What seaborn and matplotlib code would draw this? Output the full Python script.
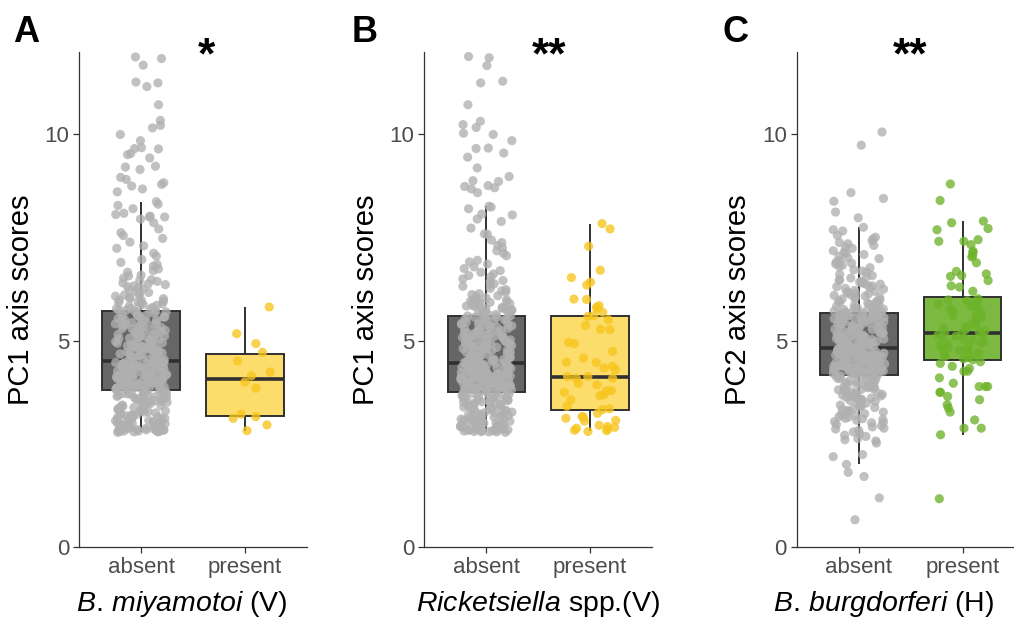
import numpy as np
import pandas as pd
import matplotlib
matplotlib.use("Agg")
import matplotlib.pyplot as plt
import seaborn as sns

# ---- data ---------------------------------------------------------------
groups = ["absent", "present"]

# PC1 scores of the bulk of uninfected ticks (same ticks in panels A and B)
pc1_bulk = [
    5.98, 5.72, 5.95, 5.81, 5.70, 5.88, 5.92, 5.75, 5.84, 5.99,
    5.77, 5.86, 5.71, 5.93, 5.79, 5.90, 5.74, 5.83, 5.96, 5.78,
    5.62, 5.11, 4.73, 5.48, 4.95, 5.30, 4.58, 5.67, 5.02, 4.81,
    5.39, 4.66, 5.21, 5.55, 4.90, 4.52, 5.14, 5.44, 4.77, 5.06,
    5.60, 4.86, 5.27, 4.61, 5.35, 4.99, 5.18, 4.70, 5.51, 4.93,
    5.09, 5.65, 4.55, 5.24, 4.83, 5.41, 4.68, 5.00, 5.33, 4.79,
    5.58, 4.97, 5.15, 4.62, 5.46, 4.88, 5.25, 4.54, 5.04, 5.37,
    4.75, 5.53, 4.91, 5.20, 4.65, 5.12, 5.64, 4.84, 5.29, 4.57,
    5.42, 4.96, 5.07, 4.72, 5.50, 4.87, 5.17, 4.60, 5.32, 5.01,
    4.80, 5.57, 4.94, 5.23, 4.67, 5.10, 5.45, 4.76, 5.36, 4.89,
    5.05, 4.53, 5.26, 5.61, 4.82, 5.13, 4.69, 5.40, 4.98, 5.19,
    4.63, 5.54, 4.85, 5.08, 4.51,
    4.48, 3.92, 4.21, 4.05, 4.37, 3.84, 4.14, 4.44, 3.98, 4.28,
    4.09, 3.81, 4.33, 4.17, 3.95, 4.46, 4.02, 4.24, 3.88, 4.40,
    4.12, 3.80, 4.30, 4.07, 4.42, 3.93, 4.19, 3.86, 4.35, 4.00,
    4.26, 4.47, 3.90, 4.15, 4.38, 3.83, 4.04, 4.23, 3.97, 4.43,
    4.10, 3.89, 4.31, 4.18, 4.49, 3.82, 4.06, 4.36, 3.94, 4.22,
    4.01, 4.45, 3.87, 4.13, 4.29, 3.96, 4.39, 4.08, 3.85, 4.25,
    4.16, 4.41, 3.91, 4.03, 4.34, 3.79, 4.20, 4.47, 3.99, 4.11,
    4.32, 3.86, 4.27, 4.06, 4.44, 3.93, 4.18, 3.83, 4.38, 4.02,
    4.24, 4.49, 3.90, 4.14, 4.35, 3.97, 4.09, 4.43, 3.88, 4.21,
    4.30, 4.00, 4.46, 3.84, 4.12,
    3.76, 3.12, 2.85, 3.45, 3.01, 3.63, 2.79, 3.28, 3.55, 2.93,
    3.19, 3.71, 2.88, 3.37, 3.05, 3.59, 2.81, 3.24, 3.48, 2.97,
    3.67, 3.09, 2.83, 3.41, 3.15, 3.74, 2.90, 3.31, 3.52, 3.02,
    2.80, 3.22, 3.61, 2.95, 3.39, 3.07, 3.70, 2.86, 3.34, 3.57,
    3.11, 2.82, 3.46, 3.00, 3.65, 2.92, 3.27, 3.53, 2.84, 3.17,
    3.73, 2.98, 3.35, 3.04, 3.62, 2.79, 3.43, 3.20, 2.89, 3.50,
    3.13, 3.68, 2.87, 3.30, 3.58, 2.94, 3.08, 3.77, 2.81, 3.25,
    3.44, 2.99, 3.66, 3.14, 2.83, 3.38, 3.03, 3.56, 2.91, 3.21,
    3.72, 2.86, 3.33, 3.10, 3.60, 2.80, 3.47, 2.96, 3.18, 3.64,
    2.84, 3.29, 3.06, 3.51, 2.78,
]

# upper tail of the B. miyamotoi-negative group (panel A)
pc1_tail_a = [
    11.88, 11.68, 11.84, 11.25, 11.16, 11.27, 10.72, 10.34, 10.22, 10.16,
    10.00, 9.54, 9.85, 9.68, 9.65, 9.51, 9.43, 9.66, 9.23, 9.21,
    9.15, 8.96, 8.91, 8.83, 8.75, 8.79, 8.68, 8.61, 8.37, 8.28,
    8.31, 8.06, 8.02, 8.09, 8.20, 8.00, 7.95, 8.00,
    7.86, 7.62, 7.71, 7.48, 7.55, 7.30, 7.39, 7.12, 7.24, 6.97,
    7.05, 6.81, 6.90, 6.74, 6.66, 6.85, 6.59, 6.52, 6.70, 6.44,
    6.48, 6.36, 6.57, 6.31, 6.40, 6.26, 6.19, 6.33, 6.12, 6.23,
    6.08, 6.15, 6.05, 6.28, 6.02, 6.11, 6.38, 6.17, 6.03, 6.46,
]

# upper tail of the Rickettsiella-negative group (panel B)
pc1_tail_b = [
    11.89, 11.86, 11.67, 11.29, 11.25, 10.72, 10.32, 10.24, 10.17, 10.00,
    10.03, 9.85, 9.67, 9.66, 9.55, 9.45, 9.19, 8.98, 8.88, 8.86,
    8.74, 8.76, 8.71, 8.68, 8.59, 8.26, 8.24, 8.20, 8.07, 8.05,
    7.95, 7.89, 7.73, 7.59, 7.58,
    7.44, 7.31, 7.38, 7.18, 7.25, 7.06, 6.95, 7.12, 6.86, 6.79,
    6.91, 6.70, 6.62, 6.75, 6.55, 6.50, 6.66, 6.43, 6.38, 6.58,
    6.32, 6.27, 6.46, 6.21, 6.14, 6.35, 6.09, 6.18, 6.04, 6.24,
    6.01, 6.12, 6.07,
]

miyamotoi_present = [
    5.82, 5.17, 4.93, 4.72, 4.51, 4.24, 4.15,
    4.00, 3.85, 3.22, 3.16, 3.12, 2.96, 2.82,
]

rickettsiella_present = [
    7.84, 7.71, 7.29, 6.71, 6.53, 6.42, 6.35, 6.00, 6.01, 5.81,
    5.85, 5.78, 5.69, 5.59, 5.51, 5.61, 5.27, 5.37, 5.28, 4.93,
    4.96, 4.74, 4.58, 4.48, 4.47, 4.38, 4.34, 4.30, 4.09, 4.13,
    4.09, 4.13, 3.97, 3.93, 3.79, 3.75, 3.79, 3.69, 3.67, 3.57,
    3.41, 3.33, 3.24, 3.15, 3.16, 3.12, 3.07, 2.92, 2.90, 2.82,
    2.80, 2.86, 2.83, 2.95, 2.88, 3.05, 3.35,
]

pc2_absent = [
    0.66, 1.19, 1.71, 1.81, 2.00, 2.19, 2.24,
    2.52, 2.71, 2.63, 2.88, 2.79, 2.94, 2.57, 2.83, 2.68, 2.97, 2.75, 2.91, 2.60, 2.86,
    3.04, 3.21, 3.12, 3.38, 3.07, 3.46, 3.29, 3.15, 3.42, 3.01,
    3.33, 3.18, 3.49, 3.09, 3.26, 3.36, 3.11, 3.44, 3.23, 3.03,
    3.31, 3.47, 3.16, 3.39, 3.27,
    3.52, 3.88, 3.67, 4.05, 3.74, 3.95, 3.59, 4.12, 3.81, 3.70,
    4.01, 3.55, 3.92, 3.78, 4.15, 3.63, 3.86, 4.08, 3.71, 3.98,
    3.57, 4.10, 3.84, 3.66, 4.03, 3.76, 3.93, 3.61, 4.14, 3.89,
    3.53, 3.99, 3.73, 4.06, 3.82, 3.68, 3.96, 4.16, 3.58, 3.87,
    4.00, 3.79, 3.64, 4.11,
    4.18, 4.52, 4.33, 4.71, 4.25, 4.60, 4.41, 4.79, 4.29, 4.66,
    4.21, 4.48, 4.37, 4.75, 4.19, 4.56, 4.44, 4.81, 4.31, 4.63,
    4.23, 4.50, 4.39, 4.69, 4.27, 4.58, 4.46, 4.77, 4.34, 4.64,
    4.20, 4.54, 4.36, 4.73, 4.26, 4.61, 4.43, 4.80, 4.30, 4.67,
    4.22, 4.49, 4.40, 4.70, 4.28, 4.57, 4.45, 4.78, 4.32, 4.62,
    4.24, 4.51, 4.38, 4.74, 4.17, 4.59, 4.47, 4.76, 4.35, 4.65,
    4.19, 4.53, 4.42, 4.72, 4.29, 4.55, 4.44, 4.80, 4.33, 4.68,
    4.21, 4.50, 4.37, 4.70, 4.26, 4.58, 4.46, 4.79, 4.31, 4.63,
    4.23, 4.52, 4.39, 4.75, 4.28, 4.60, 4.41, 4.77, 4.36, 4.66,
    4.85, 5.31, 5.02, 5.58, 4.93, 5.44, 5.15, 5.63, 4.88, 5.24,
    5.07, 5.50, 4.97, 5.36, 5.19, 5.61, 4.84, 5.28, 5.10, 5.47,
    4.91, 5.55, 5.04, 5.39, 5.22, 5.65, 4.87, 5.33, 5.13, 5.52,
    4.99, 5.42, 5.08, 5.59, 4.95, 5.26, 5.17, 5.64, 4.83, 5.35,
    5.01, 5.48, 5.12, 5.56, 4.90, 5.30, 5.20, 5.62, 4.86, 5.41,
    5.05, 5.53, 4.94, 5.37, 5.16, 5.60, 4.89, 5.27, 5.09, 5.45,
    4.98, 5.57, 5.03, 5.40, 5.21, 5.66, 4.92, 5.32, 5.14, 5.49,
    5.00, 5.43, 5.11, 5.54, 4.96, 5.29, 5.18, 5.61, 4.84, 5.38,
    5.06, 5.51, 4.93, 5.34, 5.23, 5.63, 4.88, 5.25, 5.10, 5.46,
    10.06, 9.74, 8.59, 8.45, 8.38, 8.12, 7.98, 7.75, 7.69, 7.66,
    7.55, 7.12, 6.83, 7.38, 6.61, 7.24, 6.95, 7.47, 6.72, 7.05,
    6.56, 7.31, 6.88, 7.18, 6.66, 7.42, 6.99, 6.77, 7.09, 6.52,
    7.27, 6.91, 7.51, 6.69, 7.01, 6.80, 7.35, 6.58, 7.15, 6.86,
    5.71, 6.12, 5.88, 6.41, 5.79, 6.25, 5.95, 6.48, 5.68, 6.03,
    5.84, 6.33, 5.74, 6.18, 5.99, 6.44, 5.69, 6.08, 5.91, 6.29,
    5.77, 6.37, 5.86, 6.15, 5.72, 6.22, 6.01, 6.46, 5.81, 6.10,
    5.93, 6.35, 5.67, 6.05, 5.83, 6.27, 5.76, 6.42, 5.97, 6.14,
    5.70, 6.20, 5.89, 6.31, 5.80, 6.06, 5.94, 6.39, 5.73, 6.17,
]

burgdorferi_present = [
    8.80, 8.40, 7.90, 7.86, 7.72, 7.69, 7.45, 7.41, 7.41, 7.33,
    7.17, 7.14, 7.06, 7.03, 6.89, 6.68, 6.62, 6.58, 6.56, 6.46,
    6.33, 6.30, 6.20,
    6.02, 5.61, 5.88, 5.34, 5.97, 5.46, 5.76, 5.22, 5.93, 5.55,
    5.41, 5.84, 5.27, 5.67, 5.99, 5.38, 5.80, 5.50, 5.30, 5.71,
    5.24, 5.63, 5.20,
    5.17, 4.71, 4.95, 4.56, 5.08, 4.83, 5.13, 4.62, 4.89, 5.02,
    4.54, 4.77, 5.15, 4.66, 4.92, 4.59, 5.05, 4.80, 4.98, 4.68,
    4.86, 5.11, 4.74,
    4.45, 4.38, 4.33, 4.26, 4.26, 4.10, 3.97, 3.89, 3.89, 3.89,
    3.75, 3.75, 3.65, 3.57, 3.45, 3.37, 3.27, 3.08, 2.88, 2.88,
    2.72, 1.17, 4.49,
]

# ---- style ----------------------------------------------------------------
sns.set_style("ticks")
plt.rcParams["font.family"] = ["Liberation Sans", "DejaVu Sans"]
plt.rcParams["text.color"] = "black"
plt.rcParams["axes.labelcolor"] = "black"
plt.rcParams["mathtext.fontset"] = "custom"
plt.rcParams["mathtext.rm"] = "Liberation Sans"
plt.rcParams["mathtext.it"] = "Liberation Sans:italic"

np.random.seed(7)  # reproducible jitter

GREY_BOX = "#666666"
GREY_PT = "#b0b0b0"
EDGE = "#303030"


def draw_panel(ax, absent, present, box_col, pt_col, ylabel, xlabel, xlab_pos, stars, star_x):
    df = pd.DataFrame({
        "status": ["absent"] * len(absent) + ["present"] * len(present),
        "score": list(absent) + list(present),
    })
    sns.boxplot(data=df, x="status", y="score", hue="status", order=groups,
                hue_order=groups, palette={"absent": GREY_BOX, "present": box_col},
                saturation=1, width=0.75, linewidth=1.4, linecolor=EDGE,
                showfliers=False, showcaps=False, medianprops={"linewidth": 2.6},
                legend=False, ax=ax)
    sns.stripplot(data=df, x="status", y="score", hue="status", order=groups,
                  hue_order=groups, palette={"absent": GREY_PT, "present": pt_col},
                  jitter=0.25, size=6.6, alpha=0.78, linewidth=0, legend=False,
                  zorder=3, ax=ax)

    ax.set_xlim(-0.6, 1.6)
    ax.set_ylim(0, 12)
    ax.set_yticks([0, 5, 10])
    sns.despine(ax=ax)
    for side in ["left", "bottom"]:
        ax.spines[side].set_color("#333333")
        ax.spines[side].set_linewidth(0.9)
    ax.tick_params(length=4, width=0.9, color="#333333", labelcolor="#4d4d4d",
                   labelsize=16, pad=3)
    ax.set_ylabel(ylabel, fontsize=21, labelpad=7)
    ax.set_xlabel(xlabel, fontsize=20.5)
    ax.xaxis.set_label_coords(xlab_pos, -0.085)
    ax.text(star_x, 0.966, stars, transform=ax.transAxes, ha="center",
            va="baseline", fontsize=32, fontweight="bold")


fig = plt.figure(figsize=(10.14, 6.18), dpi=100)
bottom, height, width = 0.1149, 0.801, 0.2249

ax_a = fig.add_axes([0.0779, bottom, width, height])
ax_b = fig.add_axes([0.4184, bottom, width, height])
ax_c = fig.add_axes([0.7857, bottom, width, height])

draw_panel(ax_a, pc1_bulk + pc1_tail_a, miyamotoi_present, "#fcdc6a", "#f7c51c",
           "PC1 axis scores", r"$\mathit{B.\,miyamotoi}$ (V)", 0.45, "*", 0.561)
draw_panel(ax_b, pc1_bulk + pc1_tail_b, rickettsiella_present, "#fcdc6a", "#f7c51c",
           "PC1 axis scores", r"$\mathit{Ricketsiella}$ spp.(V)", 0.50, "**", 0.547)
draw_panel(ax_c, pc2_absent, burgdorferi_present, "#7cb940", "#6db32a",
           "PC2 axis scores", r"$\mathit{B.\,burgdorferi}$ $\mathit{(}$H)", 0.383,
           "**", 0.497)

for x, letter in [(0.013, "A"), (0.347, "B"), (0.713, "C")]:
    fig.text(x, 0.932, letter, fontsize=26, fontweight="bold", ha="left", va="baseline")

fig.savefig("out.png", dpi=100)
